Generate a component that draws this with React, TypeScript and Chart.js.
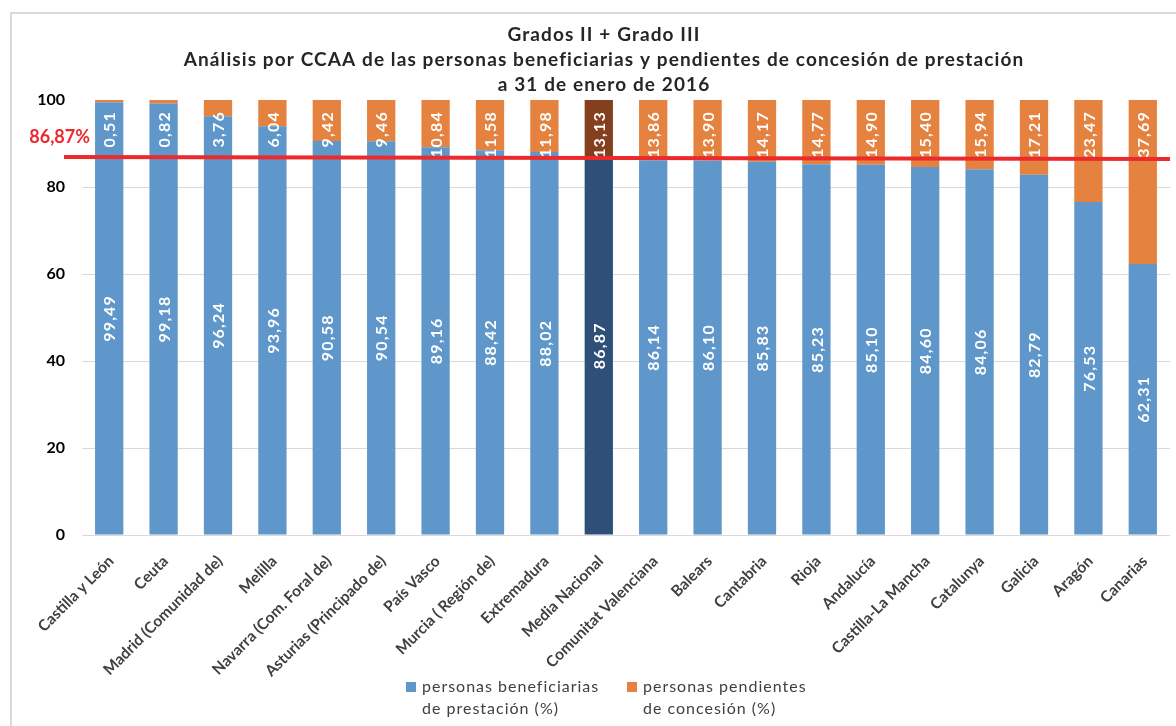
import React, { useEffect, useRef } from 'react';
import { Chart, registerables } from 'chart.js';

Chart.register(...registerables);

const categories = [
  'Castilla y León',
  'Ceuta',
  'Madrid (Comunidad de)',
  'Melilla',
  'Navarra (Com. Foral de)',
  'Asturias (Principado de)',
  'País Vasco',
  'Murcia ( Región de)',
  'Extremadura',
  'Media Nacional',
  'Comunitat Valenciana',
  'Balears',
  'Cantabria',
  'Rioja',
  'Andalucía',
  'Castilla-La Mancha',
  'Catalunya',
  'Galicia',
  'Aragón',
  'Canarias',
];

const beneficiarias = [
  99.49, 99.18, 96.24, 93.96, 90.58, 90.54, 89.16, 88.42, 88.02, 86.87,
  86.14, 86.1, 85.83, 85.23, 85.1, 84.6, 84.06, 82.79, 76.53, 62.31,
];

const pendientes = [
  0.51, 0.82, 3.76, 6.04, 9.42, 9.46, 10.84, 11.58, 11.98, 13.13,
  13.86, 13.9, 14.17, 14.77, 14.9, 15.4, 15.94, 17.21, 23.47, 37.69,
];

const mediaNacional = 86.87;
const highlightIndex = 9;
const yMin = 0;
const yMax = 100;
const yStep = 20;

const titleLines = [
  'Grados II + Grado III',
  'Análisis por CCAA de las personas beneficiarias y pendientes de concesión de prestación',
  'a 31 de enero de 2016',
];

const legendBeneficiarias = ['personas beneficiarias', 'de prestación (%)'];
const legendPendientes = ['personas pendientes', 'de concesión (%)'];
const mediaLabel = '86,87%';

const BLUE = '#5f97cb';
const ORANGE = '#e5823f';
const NAVY = '#2e5078';
const BROWN = '#843f1f';
const RED = '#ec2a2c';
const FONT = 'Lato, "Open Sans", sans-serif';

const fmt = (v: number) => v.toFixed(2).replace('.', ',');

const barLabelsPlugin = {
  id: 'barLabels',
  afterDatasetsDraw(chart: any) {
    const ctx = chart.ctx;
    ctx.save();
    ctx.fillStyle = '#ffffff';
    ctx.font = `bold 16px ${FONT}`;
    (ctx as any).letterSpacing = '1.2px';
    ctx.textBaseline = 'middle';
    chart.data.datasets.forEach((ds: any, di: number) => {
      const meta = chart.getDatasetMeta(di);
      meta.data.forEach((bar: any, i: number) => {
        const text = fmt(ds.data[i]);
        const { x, y, base } = bar.getProps(['x', 'y', 'base'], true);
        ctx.save();
        if (di === 0) {
          ctx.translate(x, (y + base) / 2);
          ctx.rotate(-Math.PI / 2);
          ctx.textAlign = 'center';
        } else {
          ctx.translate(x, Math.min(y, base) + 11);
          ctx.rotate(-Math.PI / 2);
          ctx.textAlign = 'right';
        }
        ctx.fillText(text, 0, 1);
        ctx.restore();
      });
    });
    ctx.restore();
  },
};

const mediaLinePlugin = {
  id: 'mediaLine',
  afterDatasetsDraw(chart: any) {
    const ctx = chart.ctx;
    const yScale = chart.scales.y;
    const area = chart.chartArea;
    const yp = yScale.getPixelForValue(mediaNacional);
    ctx.save();
    ctx.strokeStyle = RED;
    ctx.lineWidth = 4;
    ctx.beginPath();
    ctx.moveTo(area.left - 18, yp);
    ctx.lineTo(area.right, yp + 2);
    ctx.stroke();
    ctx.fillStyle = RED;
    ctx.font = `bold 18px ${FONT}`;
    ctx.textAlign = 'right';
    ctx.textBaseline = 'middle';
    ctx.fillText(mediaLabel, area.left + 8, yp - 20);
    ctx.restore();
  },
};

const titleLegendPlugin = {
  id: 'titleLegend',
  afterDraw(chart: any) {
    const ctx = chart.ctx;
    const cx = 604;
    ctx.save();
    ctx.fillStyle = '#262626';
    ctx.font = `bold 19px ${FONT}`;
    (ctx as any).letterSpacing = '1.1px';
    ctx.textAlign = 'center';
    ctx.textBaseline = 'middle';
    titleLines.forEach((t, i) => ctx.fillText(t, cx, 35 + i * 25));

    ctx.font = `16px ${FONT}`;
    (ctx as any).letterSpacing = '1px';
    ctx.textAlign = 'left';
    const items = [
      { color: BLUE, lines: legendBeneficiarias, x: 406 },
      { color: ORANGE, lines: legendPendientes, x: 627 },
    ];
    items.forEach((it) => {
      ctx.fillStyle = it.color;
      ctx.fillRect(it.x, 682, 10, 10);
      ctx.fillStyle = '#404040';
      it.lines.forEach((l, j) => ctx.fillText(l, it.x + 16, 687 + j * 22));
    });
    ctx.restore();
  },
};

export default function App() {
  const canvasRef = useRef<HTMLCanvasElement | null>(null);

  useEffect(() => {
    if (!canvasRef.current) return;
    const chart = new Chart(canvasRef.current, {
      type: 'bar',
      data: {
        labels: categories,
        datasets: [
          {
            label: legendBeneficiarias.join(' '),
            data: beneficiarias,
            backgroundColor: categories.map((_, i) => (i === highlightIndex ? NAVY : BLUE)),
            borderWidth: 0,
            barPercentage: 0.52,
            categoryPercentage: 1,
          },
          {
            label: legendPendientes.join(' '),
            data: pendientes,
            backgroundColor: categories.map((_, i) => (i === highlightIndex ? BROWN : ORANGE)),
            borderWidth: 0,
            barPercentage: 0.52,
            categoryPercentage: 1,
          },
        ],
      },
      options: {
        responsive: false,
        animation: false,
        devicePixelRatio: 1,
        layout: { padding: { top: 100, right: 6, left: 0, bottom: 0 } },
        plugins: {
          legend: { display: false },
          title: { display: false },
          tooltip: { enabled: false },
        },
        scales: {
          x: {
            stacked: true,
            grid: { display: false },
            border: { display: false },
            ticks: {
              autoSkip: false,
              minRotation: 45,
              maxRotation: 45,
              padding: 9,
              labelOffset: 2,
              color: '#404040',
              font: { family: FONT, size: 15.5, weight: 'bold' },
            },
            afterFit(scale: any) {
              scale.height = 191;
            },
          },
          y: {
            stacked: true,
            min: yMin,
            max: yMax,
            ticks: {
              stepSize: yStep,
              padding: 17,
              color: '#000000',
              font: { family: FONT, size: 16, weight: 'bold' },
            },
            grid: {
              drawTicks: false,
              color: (c: any) => (c.tick && c.tick.value === yMax ? 'rgba(0,0,0,0)' : '#d9d9d9'),
            },
            border: { display: false },
            afterFit(scale: any) {
              scale.width = 82;
            },
          },
        },
      },
      plugins: [barLabelsPlugin, mediaLinePlugin, titleLegendPlugin],
    });
    return () => chart.destroy();
  }, []);

  return (
    <div style={{ position: 'absolute', left: 0, top: 0, width: 1176, height: 726, overflow: 'hidden', background: '#fff' }}>
      <div
        style={{
          position: 'absolute',
          left: 10,
          top: 12,
          width: 1300,
          height: 800,
          borderLeft: '2px solid #d9d9d9',
          borderTop: '2px solid #d9d9d9',
        }}
      />
      <canvas ref={canvasRef} width={1176} height={726} style={{ position: 'absolute', left: 0, top: 0, width: 1176, height: 726 }} />
    </div>
  );
}
